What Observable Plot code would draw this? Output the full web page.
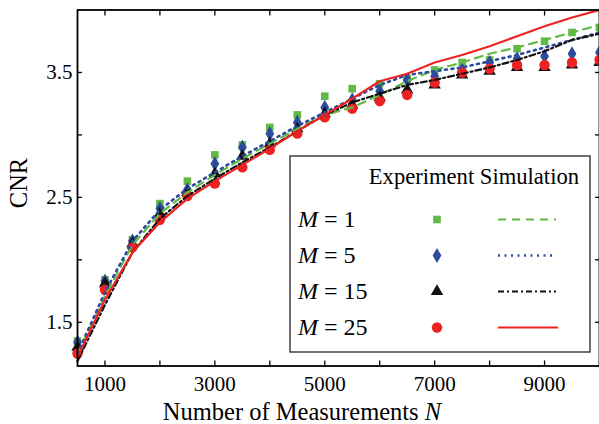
<!DOCTYPE html>
<html><head><meta charset="utf-8">
<script src="https://cdn.jsdelivr.net/npm/d3@7"></script>
<script src="https://cdn.jsdelivr.net/npm/@observablehq/plot@0.6"></script>
<style>body{margin:0;background:#fff} svg{display:block}</style>
</head><body><div id="chart"></div>
<script>
// Number of measurements N
const N = [500,1000,1500,2000,2500,3000,3500,4000,4500,5000,5500,6000,6500,7000,7500,8000,8500,9000,9500,10000];
// Experiment (markers)
const expM1  = [1.35,1.84,2.16,2.45,2.63,2.84,2.92,3.06,3.16,3.31,3.37,3.41,3.45,3.52,3.58,3.60,3.69,3.75,3.82,3.86];
const expM5  = [1.34,1.83,2.15,2.41,2.56,2.77,2.90,3.01,3.10,3.22,3.28,3.35,3.44,3.47,3.52,3.58,3.61,3.63,3.65,3.66];
const expM15 = [1.30,1.81,2.13,2.37,2.54,2.69,2.83,2.93,3.05,3.17,3.24,3.30,3.36,3.40,3.48,3.51,3.54,3.54,3.56,3.58];
const expM25 = [1.25,1.76,2.10,2.32,2.51,2.61,2.74,2.88,3.01,3.14,3.21,3.27,3.32,3.42,3.50,3.53,3.56,3.56,3.58,3.60];
// Simulation (lines)
const simM1  = [1.24,1.71,2.12,2.37,2.54,2.68,2.81,2.93,3.05,3.16,3.22,3.32,3.43,3.52,3.58,3.65,3.70,3.76,3.82,3.88];
const simM5  = [1.25,1.74,2.15,2.40,2.57,2.70,2.83,2.95,3.07,3.18,3.29,3.40,3.48,3.51,3.54,3.59,3.64,3.70,3.76,3.82];
const simM15 = [1.19,1.64,2.06,2.33,2.51,2.65,2.78,2.90,3.03,3.16,3.26,3.33,3.40,3.44,3.49,3.54,3.60,3.67,3.76,3.81];
const simM25 = [1.22,1.68,2.06,2.30,2.49,2.63,2.76,2.89,3.03,3.16,3.29,3.43,3.49,3.58,3.64,3.71,3.79,3.87,3.94,4.00];
// Ticks
const xTicks = [1000,2000,3000,4000,5000,6000,7000,8000,9000,10000];
const xTickLabels = [1000,3000,5000,7000,9000];
const yTicks = [1.5,2.0,2.5,3.0,3.5];
const yTickLabels = [1.5,2.5,3.5];
const Ms = [1,5,15,25];
const legendLabels = ["1","5","15","25"];

const styles = [
  {symbol:"square",   color:"#62b946", r:4.3, dash:"8,6",      width:2.2},
  {symbol:"diamond",  color:"#2d4c9e", r:4.6, dash:"2,4.5",    width:2.6},
  {symbol:"triangle", color:"#111111", r:4.6, dash:"6,3,2,3",  width:2.2},
  {symbol:"circle",   color:"#ee2222", r:5.2, dash:null,       width:2.2}
];
const expSets = [expM1, expM5, expM15, expM25];
const simSets = [simM1, simM5, simM15, simM25];
const tables = Ms.map((m, i) => N.map((n, j) => ({N: n, M: m, exp: expSets[i][j], sim: simSets[i][j]})));

const marks = [];
tables.forEach((t, i) => {
  const s = styles[i];
  marks.push(Plot.dot(t, {x: "N", y: "exp", symbol: () => s.symbol, fill: s.color, stroke: "none", r: s.r}));
});
tables.forEach((t, i) => {
  const s = styles[i];
  marks.push(Plot.line(t, {x: "N", y: "sim", stroke: s.color, strokeWidth: s.width, strokeDasharray: s.dash}));
});
marks.push(
  Plot.frame({stroke: "black", strokeWidth: 1.8}),
  Plot.axisX({anchor: "bottom", ticks: xTicks, tickSize: -5, tickFormat: () => "", label: null, strokeWidth: 1.3}),
  Plot.axisX({anchor: "top", ticks: xTicks, tickSize: -5, tickFormat: () => "", label: null, strokeWidth: 1.3}),
  Plot.axisY({anchor: "left", ticks: yTicks, tickSize: -5, tickFormat: () => "", label: null, strokeWidth: 1.3}),
  Plot.axisY({anchor: "right", ticks: yTicks, tickSize: -5, tickFormat: () => "", label: null, strokeWidth: 1.3}),
  Plot.axisX({anchor: "bottom", ticks: xTickLabels, tickSize: 0, tickPadding: 10.3, tickFormat: d => String(d), label: null, fontSize: 21}),
  Plot.axisY({anchor: "left", ticks: yTickLabels, tickSize: 0, tickPadding: 5, tickFormat: d => d.toFixed(1), label: null, fontSize: 21})
);

const chart = Plot.plot({
  width: 599, height: 424,
  marginLeft: 77, marginRight: 0, marginTop: 9.5, marginBottom: 58.5,
  style: {fontFamily: "'Liberation Serif', 'DejaVu Serif', serif", fontSize: "21px", background: "white", color: "black"},
  x: {domain: [500, 10000]},
  y: {domain: [1.15, 4.0]},
  marks
});

const svg = d3.select(chart);
// Axis titles
svg.append("text").attr("transform", "translate(27,183) rotate(-90)")
  .attr("text-anchor", "middle").attr("font-size", 24.5).attr("fill", "black").text("CNR");
const xl = svg.append("text").attr("x", 302).attr("y", 420).attr("text-anchor", "middle")
  .attr("font-size", 24.5).attr("fill", "black");
xl.append("tspan").text("Number of Measurements ");
xl.append("tspan").attr("font-style", "italic").text("N");

// Legend
const lg = svg.append("g").attr("font-size", 22.6).attr("fill", "black").attr("text-anchor", "start");
lg.append("rect").attr("x", 290).attr("y", 156).attr("width", 300).attr("height", 196)
  .attr("fill", "white").attr("stroke", "#333").attr("stroke-width", 1.4);
lg.append("text").attr("x", 579).attr("y", 184).attr("text-anchor", "end").text("Experiment Simulation");
const symMap = {square: d3.symbolSquare, diamond: d3.symbolDiamond, triangle: d3.symbolTriangle, circle: d3.symbolCircle};
legendLabels.forEach((lab, i) => {
  const s = styles[i];
  const base = 227 + i * 36;
  const cy = base - 7.5;
  const t = lg.append("text").attr("x", 298).attr("y", base).attr("font-size", 24).attr("text-anchor", "start");
  t.append("tspan").attr("font-style", "italic").text("M");
  t.append("tspan").text(" = " + lab);
  lg.append("path").attr("transform", `translate(437,${cy})`)
    .attr("d", d3.symbol().type(symMap[s.symbol]).size(Math.PI * s.r * s.r)()).attr("fill", s.color);
  lg.append("line").attr("x1", 498).attr("x2", i === 3 ? 558 : 556).attr("y1", cy).attr("y2", cy)
    .attr("stroke", s.color).attr("stroke-width", s.width).attr("stroke-dasharray", s.dash);
});

document.getElementById("chart").appendChild(chart);
</script>
</body></html>
